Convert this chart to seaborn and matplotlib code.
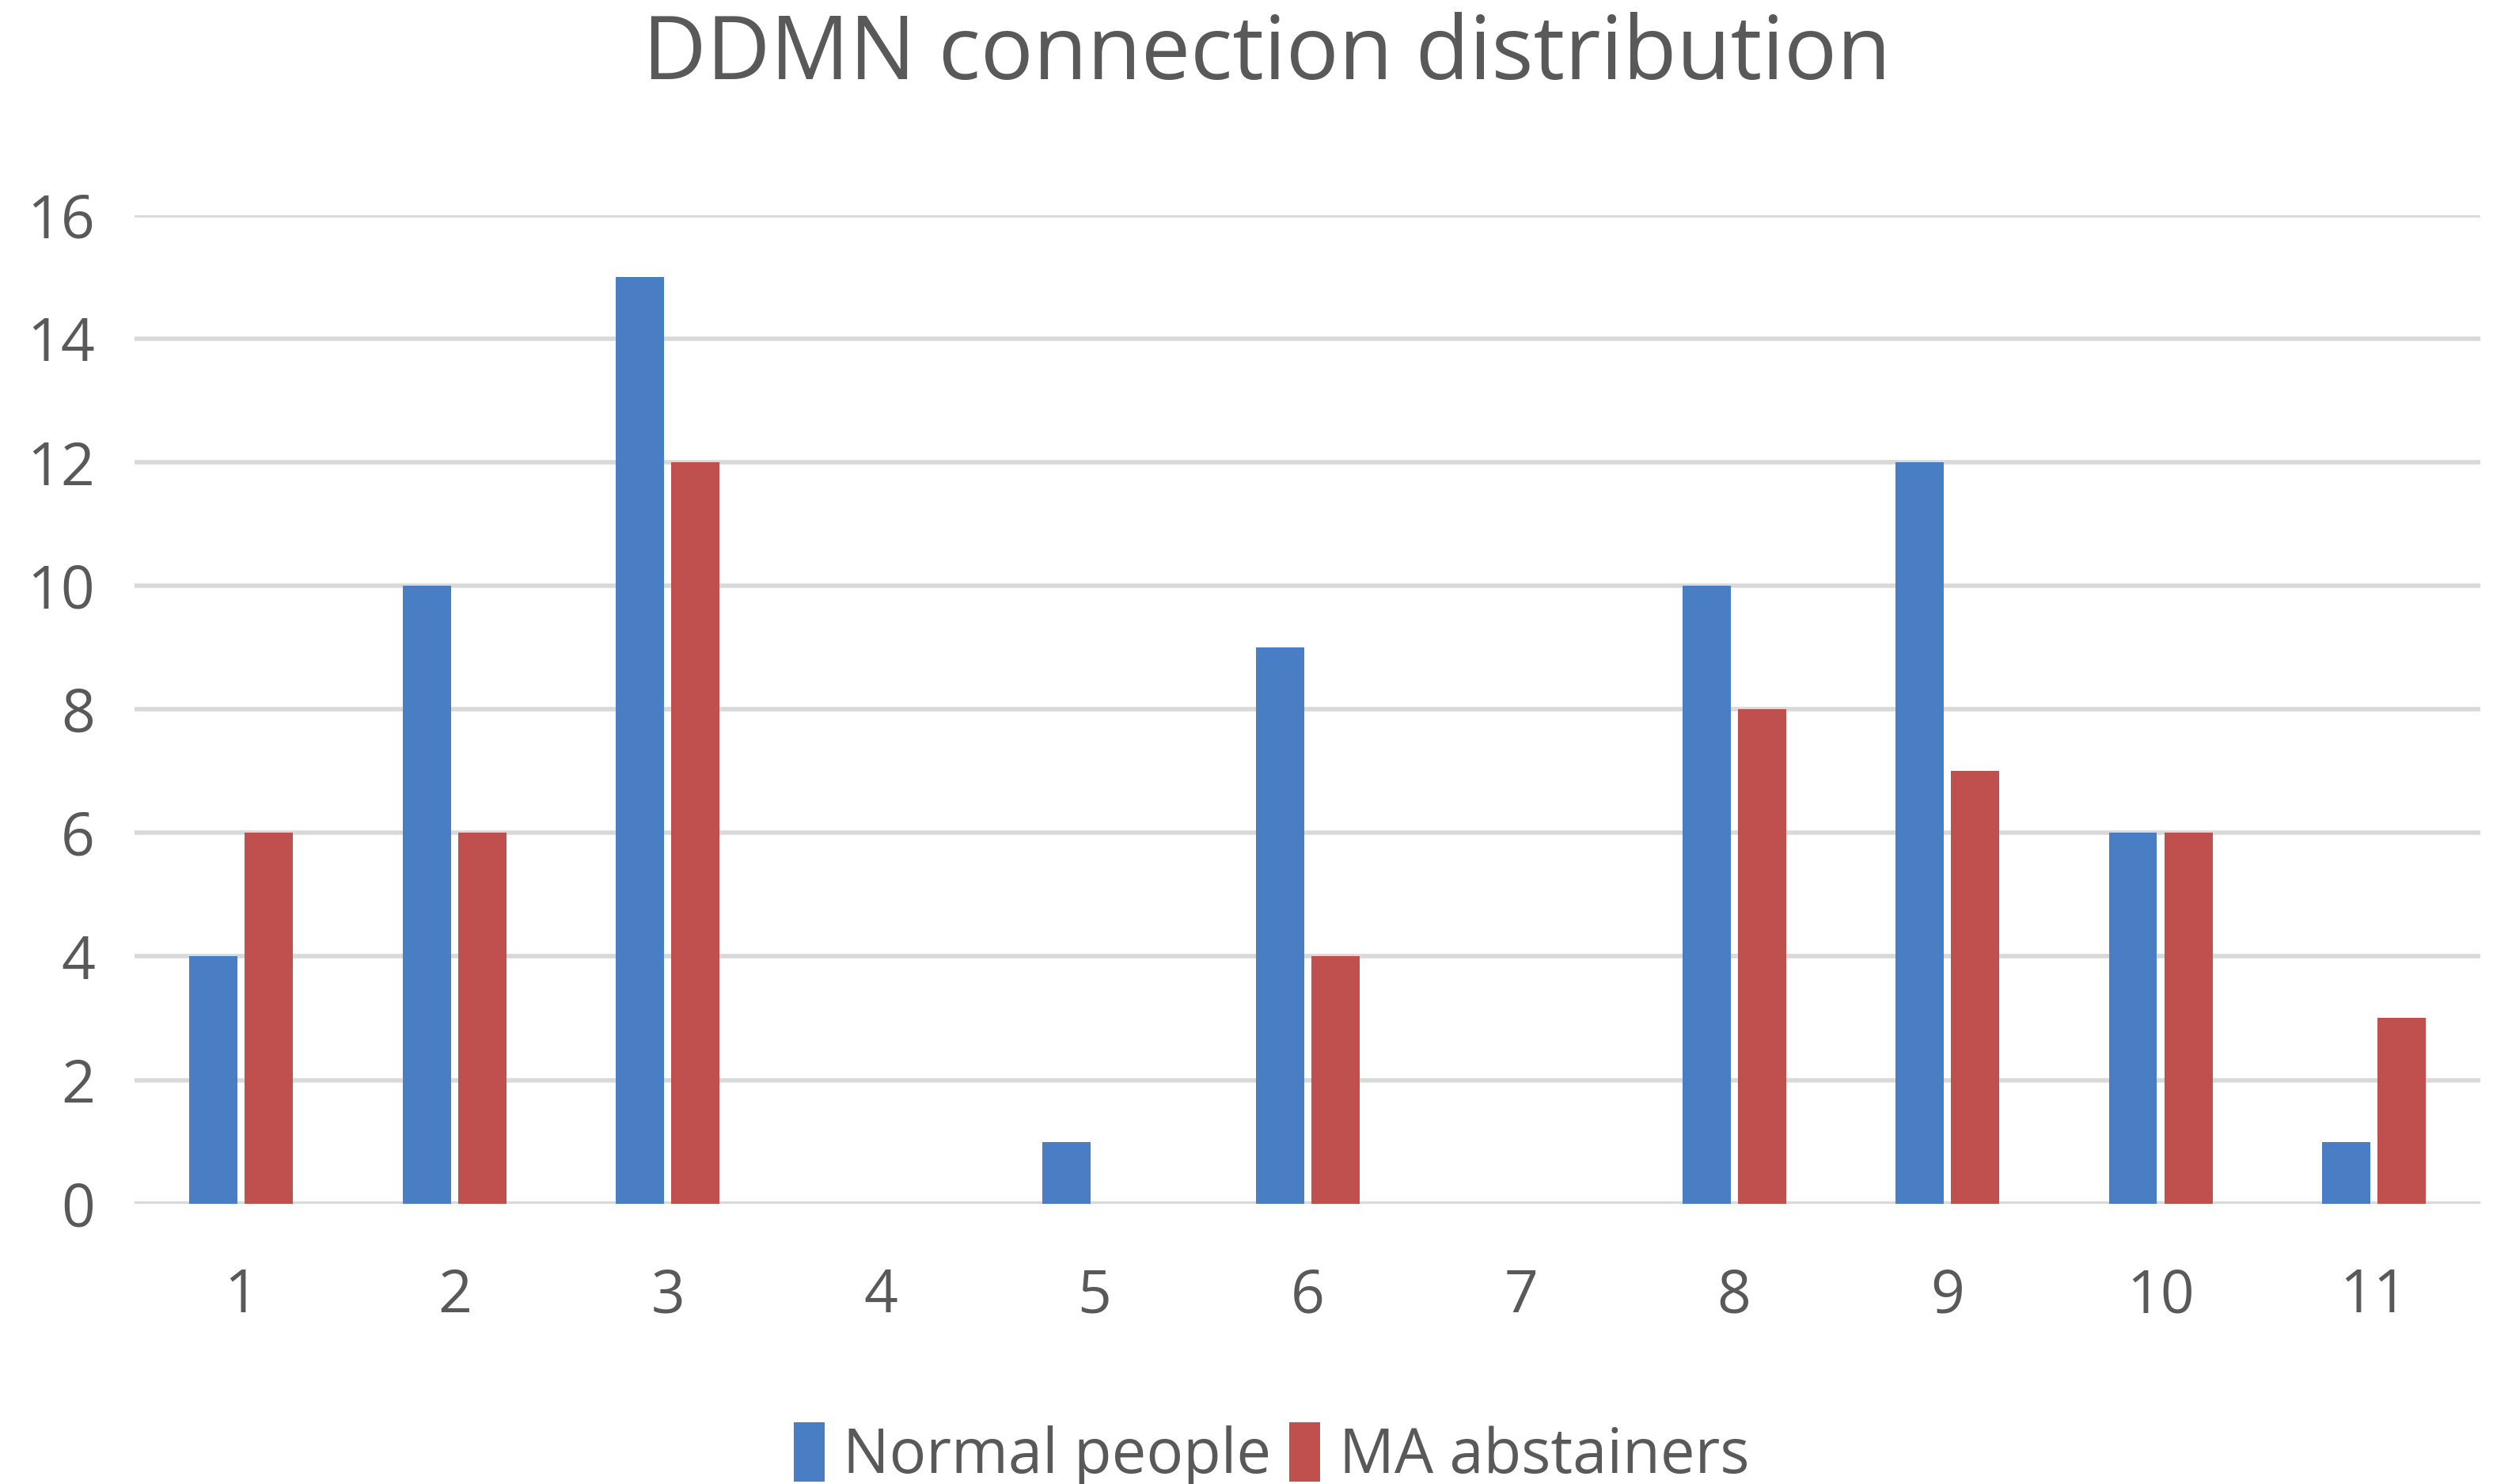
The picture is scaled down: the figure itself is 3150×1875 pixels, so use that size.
import numpy as np
import pandas as pd
import matplotlib
matplotlib.use("Agg")
import matplotlib.pyplot as plt
import seaborn as sns
from matplotlib.patches import Patch

# data
groups = [str(i) for i in range(1, 12)]
normal_people = [4, 10, 15, 0, 1, 9, 0, 10, 12, 6, 1]
ma_abstainers = [6, 6, 12, 0, 0, 4, 0, 8, 7, 6, 3]
series_names = ["Normal people", "MA abstainers"]
y_ticks = [0, 2, 4, 6, 8, 10, 12, 14, 16]

colors = ["#4A7EC4", "#C0504D"]
text_gray = "#595959"
grid_gray = "#D9D9D9"

df = pd.DataFrame({
    "group": groups * 2,
    "value": normal_people + ma_abstainers,
    "series": [series_names[0]] * len(groups) + [series_names[1]] * len(groups),
})

sns.set_style("white")
plt.rcParams["font.family"] = ["Open Sans", "DejaVu Sans"]

fig = plt.figure(figsize=(15.75, 9.375), dpi=200)
ax = fig.add_axes([0.054, 0.189, 0.941, 0.666])

sns.barplot(data=df, x="group", y="value", hue="series", order=groups,
            hue_order=series_names, palette=colors, width=0.52, gap=0.13,
            saturation=1, linewidth=0, ax=ax, legend=False, zorder=3)

ax.set_ylim(0, 16)
ax.set_xlim(-0.5, len(groups) - 0.5)
ax.set_yticks(y_ticks)
ax.yaxis.grid(True, color=grid_gray, linewidth=2.0, zorder=0)
ax.set_axisbelow(True)
for s in ["top", "right", "left", "bottom"]:
    ax.spines[s].set_visible(False)
ax.axhline(0, color=grid_gray, linewidth=2.6, zorder=2)

ax.tick_params(axis="both", length=0, labelsize=27, colors=text_gray)
ax.tick_params(axis="x", pad=29)
ax.tick_params(axis="y", pad=18)
ax.set_xlabel("")
ax.set_ylabel("")

fig.text(0.508, 0.962, "DDMN connection distribution", ha="center", va="center",
         fontsize=40, color=text_gray)

handles = [Patch(facecolor=c, edgecolor="none") for c in colors]
fig.legend(handles, series_names, loc="lower center", bbox_to_anchor=(0.51, -0.04),
           ncol=2, frameon=False, fontsize=28, labelcolor=text_gray,
           handlelength=0.5, handleheight=1.1, handletextpad=0.3, columnspacing=0.3)

plt.savefig("out.png", dpi=200)
plt.close()
